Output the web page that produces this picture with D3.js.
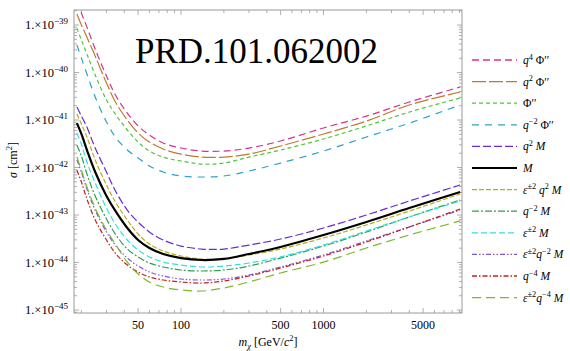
<!DOCTYPE html>
<html>
<head>
<meta charset="utf-8">
<script src="https://cdn.jsdelivr.net/npm/d3@7"></script>
<style>
    body { margin: 0; background: #fff; }
    svg, text, tspan { font-family: "Liberation Serif", "Times New Roman", serif; }
    text { fill: #000; }
</style>
</head>
<body>
<svg id="chart" width="570" height="351"></svg>
<script>
// dark matter mass grid (GeV/c^2)
const masses = [18.6, 20, 22, 25, 30, 35, 42, 50, 60, 75, 100, 140, 200, 300, 500, 1000, 2000, 4000, 9100];

// cross section limits (cm^2)
const sigQ4Phi   = [3.05e-39, 1.79e-39, 8.6e-40, 3.12e-40, 8.43e-41, 3.2e-41, 1.4e-41, 7.5e-42, 4.84e-42, 3.28e-42, 2.57e-42, 2.22e-42, 2.22e-42, 2.57e-42, 3.62e-42, 6.8e-42, 1.21e-41, 2.39e-41, 4.95e-41];
const sigQ2Phi   = [1.7e-39, 1.0e-39, 5.33e-40, 2.22e-40, 6.02e-41, 2.28e-41, 1.0e-41, 5.33e-42, 3.44e-42, 2.45e-42, 1.92e-42, 1.66e-42, 1.66e-42, 1.92e-42, 2.84e-42, 5.07e-42, 9.5e-42, 2.07e-41, 3.89e-41];
const sigPhi     = [8.6e-40, 4.84e-40, 2.33e-40, 8.85e-41, 2.64e-41, 1.27e-41, 6.16e-42, 3.44e-42, 2.22e-42, 1.66e-42, 1.37e-42, 1.18e-42, 1.24e-42, 1.66e-42, 2.33e-42, 3.98e-42, 7.5e-42, 1.47e-41, 2.91e-41];
const sigQm2Phi  = [3.79e-40, 2.02e-40, 8.85e-41, 3.05e-41, 9.1e-42, 4.18e-42, 2.33e-42, 1.59e-42, 1.08e-42, 8.04e-43, 6.62e-43, 6.31e-43, 6.62e-43, 8.43e-43, 1.24e-42, 2.22e-42, 4.38e-42, 8.6e-42, 2.07e-41];
const sigQ2M     = [1.88e-41, 1.21e-41, 6.8e-42, 2.57e-42, 8.04e-43, 3.05e-43, 1.27e-43, 7.1e-44, 4.4e-44, 2.98e-44, 2.22e-44, 1.92e-44, 1.92e-44, 2.33e-44, 3.12e-44, 5.33e-44, 1.0e-43, 1.97e-43, 4.28e-43];
const sigM       = [8.6e-42, 5.1e-42, 2.22e-42, 8.04e-43, 2.51e-43, 1.16e-43, 5.32e-44, 2.98e-44, 2.02e-44, 1.51e-44, 1.24e-44, 1.13e-44, 1.19e-44, 1.51e-44, 2.12e-44, 3.79e-44, 7.13e-44, 1.4e-43, 3.05e-43];
const sigV2Q2M   = [1.34e-41, 8.2e-42, 4.18e-42, 1.44e-42, 4.28e-43, 1.79e-43, 7.85e-44, 3.98e-44, 2.45e-44, 1.75e-44, 1.37e-44, 1.18e-44, 1.18e-44, 1.44e-44, 1.92e-44, 3.28e-44, 6.16e-44, 1.21e-43, 2.77e-43];
const sigQm2M    = [2.98e-42, 1.75e-42, 6.95e-43, 2.51e-43, 8.24e-44, 3.79e-44, 1.92e-44, 1.31e-44, 9.75e-45, 8.04e-45, 6.95e-45, 6.62e-45, 6.95e-45, 8.43e-45, 1.24e-44, 2.22e-44, 4.38e-44, 9.1e-44, 2.07e-43];
const sigV2M     = [5.33e-42, 3.12e-42, 1.24e-42, 4.72e-43, 1.4e-43, 6.16e-44, 2.98e-44, 1.83e-44, 1.31e-44, 1.02e-44, 8.85e-45, 8.04e-45, 8.43e-45, 9.75e-45, 1.31e-44, 2.33e-44, 4.6e-44, 9.1e-44, 1.97e-43];
const sigV2Qm2M  = [1.44e-42, 8.04e-43, 3.36e-43, 1.27e-43, 4.38e-44, 2.22e-44, 1.24e-44, 8.43e-45, 6.31e-45, 5.2e-45, 4.49e-45, 4.28e-45, 4.49e-45, 5.46e-45, 8.04e-45, 1.44e-44, 2.84e-44, 5.6e-44, 1.27e-43];
const sigQm4M    = [8.85e-43, 4.95e-43, 2.07e-43, 7.85e-44, 2.98e-44, 1.51e-44, 8.85e-45, 6.31e-45, 4.95e-45, 4.28e-45, 3.89e-45, 3.7e-45, 4.08e-45, 5.2e-45, 7.66e-45, 1.37e-44, 2.7e-44, 5.6e-44, 1.34e-43];
const sigV2Qm4M  = [1.66e-42, 8.85e-43, 3.7e-43, 1.4e-43, 4.84e-44, 2.33e-44, 1.02e-44, 5.73e-45, 3.89e-45, 3.05e-45, 2.64e-45, 2.51e-45, 2.91e-45, 3.89e-45, 6.02e-45, 1.02e-44, 2.02e-44, 3.79e-44, 7.5e-44];

// tick labels
const xTickLabels = [50, 100, 500, 1000, 5000];
const yTickExps = [-45, -44, -43, -42, -41, -40, -39];

// series: label parts [text, style] where style: "i" italic, "sup" superscript
const series = [
    { values: sigQ4Phi,  color: "#d6338f", dash: "7,4",            width: 1.2, label: [["q","i"],["4","sup"],[" Φ′′",""]] },
    { values: sigQ2Phi,  color: "#c07a2c", dash: "14,3",           width: 1.2, label: [["q","i"],["2","sup"],[" Φ′′",""]] },
    { values: sigPhi,    color: "#4cc83c", dash: "4,3",            width: 1.2, label: [["Φ′′",""]] },
    { values: sigQm2Phi, color: "#2aa3c9", dash: "7,6",            width: 1.2, label: [["q","i"],["−2","sup"],[" Φ′′",""]] },
    { values: sigQ2M,    color: "#6a2ad6", dash: "8,3",            width: 1.2, label: [["q","i"],["2","sup"],[" M","i"]] },
    { values: sigM,      color: "#000000", dash: null,             width: 2.2, label: [["M","i"]] },
    { values: sigV2Q2M,  color: "#b8ac1e", dash: "5,2",            width: 1.2, label: [["ε","i"],["±2","sup"],[" q","i"],["2","sup"],[" M","i"]] },
    { values: sigQm2M,   color: "#2e9e50", dash: "7,2,2,2",        width: 1.2, label: [["q","i"],["−2","sup"],[" M","i"]] },
    { values: sigV2M,    color: "#30e0e0", dash: "6,3",            width: 1.2, label: [["ε","i"],["±2","sup"],[" M","i"]] },
    { values: sigV2Qm2M, color: "#7b55d8", dash: "5,2,1.5,2,1.5,2",width: 1.2, label: [["ε","i"],["±2","sup"],["q","i"],["−2","sup"],[" M","i"]] },
    { values: sigQm4M,   color: "#c42222", dash: "5,2,1.5,2",      width: 1.2, label: [["q","i"],["−4","sup"],[" M","i"]] },
    { values: sigV2Qm4M, color: "#7cb828", dash: "9,5",            width: 1.2, label: [["ε","i"],["±2","sup"],["q","i"],["−4","sup"],[" M","i"]] }
];

const svg = d3.select("#chart");
const plot = { left: 74, right: 462, top: 10, bottom: 313 };

const x = d3.scaleLog().domain([17.75, 9374]).range([plot.left, plot.right]);
const y = d3.scaleLog().domain([Math.pow(10, -45.063), Math.pow(10, -38.684)]).range([plot.bottom, plot.top]);

// helper: write label parts into a text element with tspans
function richText(sel, parts, size) {
    let raised = false;
    parts.forEach(([t, s]) => {
        const ts = sel.append("tspan").text(t);
        if (s === "sup") {
            ts.attr("font-size", size * 0.72).attr("dy", raised ? 0 : -size * 0.38);
            raised = true;
        } else {
            ts.attr("font-size", size);
            if (raised) { ts.attr("dy", size * 0.38); raised = false; }
            if (s === "i") ts.attr("font-style", "italic");
        }
    });
}

svg.append("clipPath").attr("id", "clip").append("rect")
    .attr("x", plot.left).attr("y", plot.top)
    .attr("width", plot.right - plot.left).attr("height", plot.bottom - plot.top);

// ticks (inward, on all four sides)
const frameColor = "#9a9a9a";
const xMajor = xTickLabels;
const xMinor = [];
[10, 100, 1000].forEach(d => { for (let k = 1; k <= 9; k++) { const v = k * d; if (v >= 18 && v <= 9300 && !xMajor.includes(v)) xMinor.push(v); } });
const yMinor = [];
for (let e = -46; e <= -39; e++) for (let k = 2; k <= 9; k++) {
    const v = k * Math.pow(10, e);
    if (v > y.domain()[0] && v < y.domain()[1]) yMinor.push(v);
}
const yMajor = yTickExps.map(e => Math.pow(10, e));

const ticks = svg.append("g").attr("stroke", frameColor).attr("stroke-width", 0.8);
[[xMajor, 5], [xMinor, 3]].forEach(([vals, len]) => {
    ticks.selectAll(null).data(vals).join("line")
        .attr("x1", d => x(d)).attr("x2", d => x(d))
        .attr("y1", plot.bottom).attr("y2", plot.bottom - len);
    ticks.selectAll(null).data(vals).join("line")
        .attr("x1", d => x(d)).attr("x2", d => x(d))
        .attr("y1", plot.top).attr("y2", plot.top + len);
});
[[yMajor, 5], [yMinor, 3]].forEach(([vals, len]) => {
    ticks.selectAll(null).data(vals).join("line")
        .attr("y1", d => y(d)).attr("y2", d => y(d))
        .attr("x1", plot.left).attr("x2", plot.left + len);
    ticks.selectAll(null).data(vals).join("line")
        .attr("y1", d => y(d)).attr("y2", d => y(d))
        .attr("x1", plot.right).attr("x2", plot.right - len);
});

// curves
const line = d3.line()
    .x((d, i) => x(masses[i]))
    .y(d => y(d))
    .curve(d3.curveCatmullRom.alpha(0.5));

const curves = svg.append("g").attr("clip-path", "url(#clip)");
const drawOrder = series.filter(s => s.dash).concat(series.filter(s => !s.dash));
curves.selectAll("path").data(drawOrder).join("path")
    .attr("d", d => line(d.values))
    .attr("fill", "none")
    .attr("stroke", d => d.color)
    .attr("stroke-width", d => d.width)
    .attr("stroke-dasharray", d => d.dash);

// frame
svg.append("rect")
    .attr("x", plot.left).attr("y", plot.top)
    .attr("width", plot.right - plot.left).attr("height", plot.bottom - plot.top)
    .attr("fill", "none").attr("stroke", frameColor).attr("stroke-width", 1);

// x tick labels
svg.selectAll(".xlab").data(xTickLabels).join("text")
    .attr("class", "xlab")
    .attr("x", d => x(d)).attr("y", 329)
    .attr("text-anchor", "middle").attr("font-size", 12)
    .text(d => d);

// y tick labels
svg.selectAll(".ylab").data(yTickExps).join("text")
    .attr("class", "ylab")
    .attr("x", 68).attr("y", d => y(Math.pow(10, d)) + 4)
    .attr("text-anchor", "end")
    .each(function(d) { richText(d3.select(this), [["1.×10", ""], [String(d).replace("-", "−"), "sup"]], 12.5); });

// axis titles
const xt = svg.append("text").attr("x", 268).attr("y", 346).attr("text-anchor", "middle");
xt.append("tspan").attr("font-style", "italic").attr("font-size", 12).text("m");
xt.append("tspan").attr("font-style", "italic").attr("font-size", 8.5).attr("dy", 3).text("χ");
xt.append("tspan").attr("font-size", 12).attr("dy", -3).text(" [GeV/");
xt.append("tspan").attr("font-style", "italic").attr("font-size", 12).text("c");
xt.append("tspan").attr("font-size", 8.5).attr("dy", -5).text("2");
xt.append("tspan").attr("font-size", 12).attr("dy", 5).text("]");

const yt = svg.append("text").attr("transform", "translate(17,160) rotate(-90)").attr("text-anchor", "middle");
yt.append("tspan").attr("font-style", "italic").attr("font-size", 12).text("σ");
yt.append("tspan").attr("font-size", 12).text(" [cm");
yt.append("tspan").attr("font-size", 8.5).attr("dy", -5).text("2");
yt.append("tspan").attr("font-size", 12).attr("dy", 5).text("]");

// title inside the plot
svg.append("text").attr("x", 135).attr("y", 63)
    .attr("font-size", 35).text("PRD.101.062002");

// legend
const legend = svg.append("g");
const legY = i => 60 + i * 21.6;
legend.selectAll("line").data(series).join("line")
    .attr("x1", 472).attr("x2", 517)
    .attr("y1", (d, i) => legY(i)).attr("y2", (d, i) => legY(i))
    .attr("stroke", d => d.color)
    .attr("stroke-width", d => d.dash ? 1.3 : 1.8)
    .attr("stroke-dasharray", d => d.dash);
legend.selectAll("text").data(series).join("text")
    .attr("x", 523).attr("y", (d, i) => legY(i) + 4)
    .each(function(d) { richText(d3.select(this), d.label, 11.5); });
</script>
</body>
</html>
